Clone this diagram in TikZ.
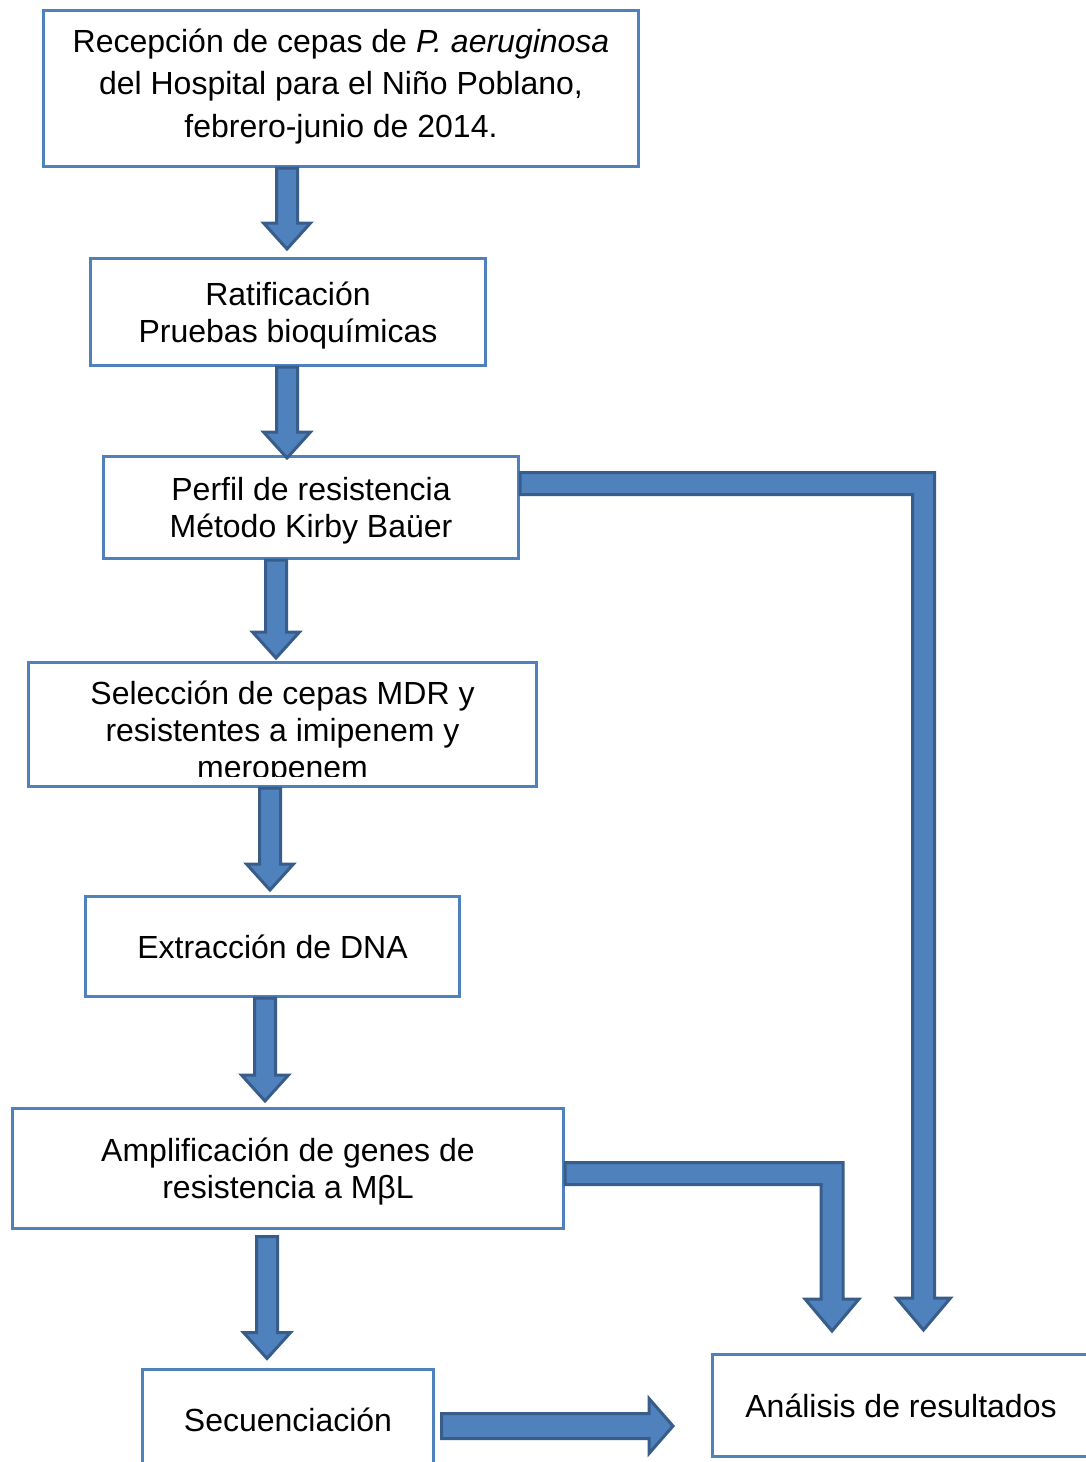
\documentclass[tikz,border=0pt]{standalone}
\usepackage{fontspec}
\setmainfont{Liberation Sans}
\usetikzlibrary{calc}

\definecolor{azulcaja}{RGB}{79,129,189}
\definecolor{azulborde}{RGB}{56,93,138}

\tikzset{
	caja/.style = {rectangle, draw=azulcaja, line width=3pt, inner sep=0pt, align=center, text depth=0pt, font=\fontsize{32}{37}\selectfont},
	texto/.style = {inner sep=0pt, align=center, text depth=0pt, font=\fontsize{32}{37}\selectfont},
	flecha/.style = {fill=azulcaja, draw=azulborde, line width=3pt}
}

% flecha de bloque hacia abajo: x, desde, hasta, hueco cola, hueco punta
\newcommand\flechabaja[5]{%
	\path[flecha] let \p1=(#2.south), \p2=(#3.north) in
	(#1pt-10.5pt,\y1-#4pt) -- (#1pt+10.5pt,\y1-#4pt) -- (#1pt+10.5pt,\y2+#5pt+26pt) -- (#1pt+23.5pt,\y2+#5pt+26pt)
	-- (#1pt,\y2+#5pt) -- (#1pt-23.5pt,\y2+#5pt+26pt) -- (#1pt-10.5pt,\y2+#5pt+26pt) -- cycle;}

% flecha con codo: desde, y del tramo, x del tramo, hasta, hueco punta, medio ancho
\newcommand\flechacodo[6]{%
	\path[flecha] let \p1=(#1.east), \p2=(#4.north) in
	(\x1,-#2pt+#6pt) -- (#3pt+#6pt,-#2pt+#6pt) -- (#3pt+#6pt,\y2+#5pt+32pt) -- (#3pt+27pt,\y2+#5pt+32pt)
	-- (#3pt,\y2+#5pt) -- (#3pt-27pt,\y2+#5pt+32pt) -- (#3pt-#6pt,\y2+#5pt+32pt) -- (#3pt-#6pt,-#2pt-#6pt)
	-- (\x1,-#2pt-#6pt) -- cycle;}

\begin{document}
\begin{tikzpicture}[x=1pt,y=-1pt]
	\useasboundingbox (0,0) rectangle (1086,1462);

	\node[caja, minimum width=595pt, minimum height=156pt, text depth=11pt, font=\fontsize{32}{42.5}\selectfont] (rec) at (341,88.5)
		{Recepción de cepas de \textit{P. aeruginosa}\\del Hospital para el Niño Poblano,\\febrero-junio de 2014.};
	\node[caja, minimum width=395pt, minimum height=107pt] (rat) at (288,312) {Ratificación\\Pruebas bioquímicas};
	\node[caja, minimum width=415pt, minimum height=102pt] (per) at (311,507.5) {Perfil de resistencia\\Método Kirby Baüer};
	\node[caja, minimum width=508pt, minimum height=124pt, path picture={
		\clip ([yshift=10pt]path picture bounding box.south west) rectangle (path picture bounding box.north east);
		\node[texto] at ([yshift=-5.5pt]path picture bounding box.center)
			{Selección de cepas MDR y\\resistentes a imipenem y\\meropenem};}] (sel) at (282.5,724.5) {};
	\node[caja, minimum width=374pt, minimum height=100pt] (ext) at (272.5,946.5) {Extracción de DNA};
	\node[caja, minimum width=551pt, minimum height=120pt] (amp) at (288,1168.5) {Amplificación de genes de\\resistencia a MβL};
	\node[caja, minimum width=291pt, minimum height=102pt] (sec) at (288,1420) {Secuenciación};
	\node[caja, minimum width=377pt, minimum height=102pt] (ana) at (901,1405.5) {Análisis de resultados};

	\flechabaja{287}{rec}{rat}{0}{8}
	\flechabaja{287}{rat}{per}{0}{-3}
	\flechabaja{276}{per}{sel}{0}{3}
	\flechabaja{270}{sel}{ext}{0}{5}
	\flechabaja{265}{ext}{amp}{0}{6}
	\flechabaja{267}{amp}{sec}{6.5}{9}

	\flechacodo{per}{483.5}{923.5}{ana}{23}{11}
	\flechacodo{amp}{1173.5}{832}{ana}{22}{11}

	\path[flecha] let \p1=(sec.east), \p2=(ana.west) in
		(\x1+6.5pt,-1413.5pt) -- (\x2-62pt,-1413.5pt) -- (\x2-62pt,-1398.5pt) -- (\x2-38pt,-1426pt)
		-- (\x2-62pt,-1453.5pt) -- (\x2-62pt,-1438.5pt) -- (\x1+6.5pt,-1438.5pt) -- cycle;
\end{tikzpicture}
\end{document}
